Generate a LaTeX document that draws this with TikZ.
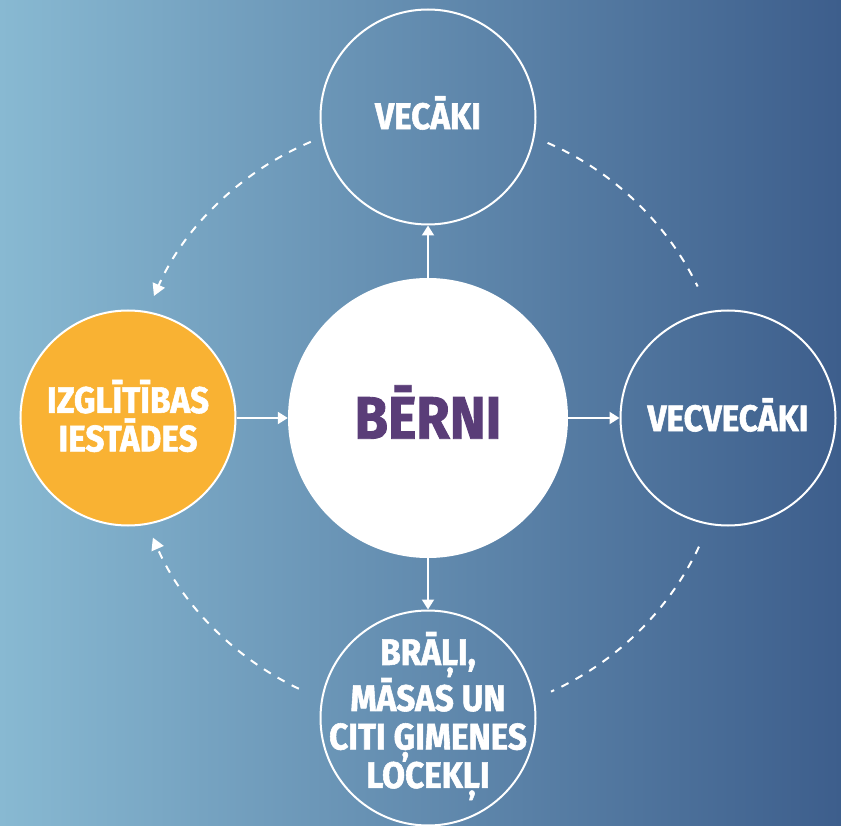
\documentclass[tikz,border=0pt]{standalone}
\usepackage{fontspec}
\newfontfamily\hfont{Fira Sans}[FakeStretch=0.9, FakeBold=1.5]
\usetikzlibrary{arrows.meta}
\definecolor{bgL}{HTML}{88B9D2}
\definecolor{bgR}{HTML}{3D5E8C}
\definecolor{orng}{HTML}{F9B233}
\definecolor{purp}{HTML}{5A3D78}
\tikzset{
  outer/.style={circle, draw=white, line width=2pt, minimum size=215pt, inner sep=0pt},
  otext/.style={text=white, align=center, inner sep=0pt, font=\hfont\bfseries\fontsize{37}{38.5}\selectfont},
  hub/.style={circle, fill=white, minimum size=280pt, inner sep=0pt},
  htext/.style={text=purp, inner sep=0pt, font=\hfont\bfseries\fontsize{60}{60}\selectfont},
  solidarrow/.style={draw=white, line width=2pt, -{Triangle[width=12pt,length=10pt]}},
  dasharc/.style={draw=white, line width=2pt, dash pattern=on 8pt off 8pt},
  dasharrow/.style={dasharc, -{Triangle[width=13pt,length=12pt]}}
}
\begin{document}
\begin{tikzpicture}[x=1pt,y=-1pt]
\useasboundingbox (0,0) rectangle (841,826);
\clip (0,0) rectangle (841,826);
\shade[left color=bgL, right color=bgR] (0,0) rectangle (841,826);

\node[hub] (c) at (428,418) {};
\node[outer] (t) at (428,117) {};
\node[outer, fill=orng] (l) at (128,418) {};
\node[outer] (r) at (728,418) {};
\node[outer] (b) at (428,718) {};

\node[htext] (ct) at (428,412) {BĒRNI};
\node[otext] (tt) at (428,113) {VECĀKI};
\node[otext] (lt) at (128,416) {IZGLĪTĪBAS\\IESTĀDES};
\node[otext] (rt) at (728,415) {VECVECĀKI};
\node[otext] (bt) at (428,716) {BRĀĻI,\\MĀSAS UN\\CITI ĢIMENES\\LOCEKĻI};

\draw[solidarrow] (c) -- (t);
\draw[solidarrow] (l) -- (c);
\draw[solidarrow] (c) -- (r);
\draw[solidarrow] (c) -- (b);

\draw[dasharrow] (c.center) ++(-113:300) arc[start angle=-113, end angle=-156, radius=300];
\draw[dasharc] (c.center) ++(-66.5:300) arc[start angle=-66.5, end angle=-26, radius=300];
\draw[dasharc] (c.center) ++(25.4:300) arc[start angle=25.4, end angle=65.8, radius=300];
\draw[dasharrow] (c.center) ++(115.5:300) arc[start angle=115.5, end angle=156.5, radius=300];
\end{tikzpicture}
\end{document}
